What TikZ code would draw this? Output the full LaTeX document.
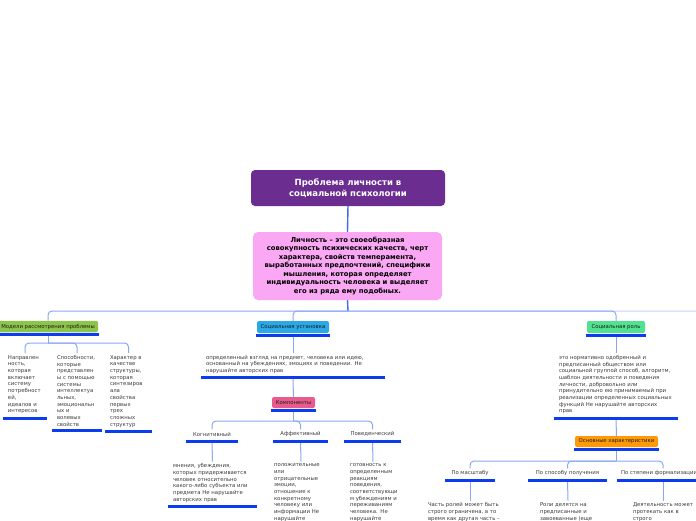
\documentclass[tikz,border=0pt]{standalone}
\usepackage{fontspec}
\setmainfont{DejaVu Sans}
\usetikzlibrary{calc}

\definecolor{titlepurple}{HTML}{6B2D90}
\definecolor{defpink}{HTML}{FAA8F3}
\definecolor{modgreen}{HTML}{8DC44C}
\definecolor{ustblue}{HTML}{2AA9E6}
\definecolor{rolegreen}{HTML}{52E18F}
\definecolor{comppink}{HTML}{EA5B8D}
\definecolor{charorange}{HTML}{FF9A05}
\definecolor{ulineblue}{HTML}{0B3CF2}
\definecolor{connblue}{HTML}{8AA7F6}
\definecolor{stemblue}{HTML}{3D6CF2}
\definecolor{fadeblue}{HTML}{C3D2FA}
\definecolor{leaftext}{HTML}{3A3A3A}
\definecolor{boxtext}{HTML}{1C1C1C}

\newcommand{\nodeuline}[2]{\draw[uline] ([xshift=-1pt,yshift=-#2]#1.south west) -- ([xshift=1pt,yshift=-#2]#1.south east);}

\begin{document}
\begin{tikzpicture}[x=1pt,y=-1pt,
    topic/.style={rounded corners=2pt,inner sep=1pt,font=\leaffontsize,text=boxtext},
    leaf/.style={anchor=north,align=left,inner xsep=4pt,inner ysep=2pt,font=\leaffontsize,text=leaftext,
      execute at begin node={\rightskip=0pt plus 1fil minus 100pt}},
    sublabel/.style={minimum height=9pt,inner sep=1pt,font=\leaffontsize,text=leaftext},
    conn/.style={draw=connblue,line width=1pt,rounded corners=4pt},
    mainconn/.style={draw=stemblue,line width=1.4pt},
    uline/.style={draw=ulineblue,line width=3pt}]
    \providecommand{\leaffontsize}{\fontsize{5.35pt}{6.7pt}\selectfont}
    \providecommand{\titlefontsize}{\fontsize{8.5pt}{11pt}\selectfont}
    \providecommand{\deffontsize}{\fontsize{6.8pt}{8.5pt}\selectfont}
    \useasboundingbox (0,0) rectangle (696,520);
    \clip (0,0) rectangle (696,520);
    \node[fill=titlepurple,rounded corners=4pt,minimum width=194pt,minimum height=36pt,text=white,font=\titlefontsize\bfseries,align=center] (title) at (348,188)
    {Проблема личности в\\социальной психологии};
    \node[fill=defpink,rounded corners=5pt,minimum width=189pt,minimum height=68pt,font=\deffontsize\bfseries,align=center] (def) at (347.5,266)
    {Личность – это своеобразная\\совокупность психических качеств, черт\\характера, свойств темперамента,\\выработанных предпочтений, специфики\\мышления, которая определяет\\индивидуальность человека и выделяет\\его из ряда ему подобных.};
    \coordinate (bus1) at (348,311);
    \coordinate (more) at (760,330);
    \node[topic,fill=modgreen,minimum width=100pt,minimum height=11.5pt] (mod) at (48,326.5) {Модели рассмотрения проблемы};
    \node[topic,fill=ustblue,minimum width=72pt,minimum height=12pt] (ust) at (293,327) {Социальная установка};
    \node[topic,fill=rolegreen,minimum width=58pt,minimum height=12pt] (role) at (616,327) {Социальная роль};
    \draw[mainconn] (title.south) -- (def.north);
    \draw[conn,draw=fadeblue] (bus1) -| (more);
    \draw[mainconn] (def.south) -- (bus1);
    \draw[conn] (bus1) -| (mod.north);
    \draw[conn] (bus1) -| (ust.north);
    \draw[conn] (bus1) -| (role.north);
    % модели
    \coordinate (bus2) at (48,343);
    \node[leaf,text width=34pt] (dir) at (25,353) {Направлен\\ность,\\которая\\включает\\систему\\потребност\\ей,\\идеалов и\\интересов};
    \node[leaf,text width=40pt] (abil) at (77,353) {Способности,\\которые\\представлен\\ы с помощью\\системы\\интеллектуа\\льных,\\эмоциональн\\ых и\\волевых\\свойств};
    \node[leaf,text width=37pt] (char) at (128.5,353) {Характер в\\качестве\\структуры,\\которая\\синтезиров\\ала\\свойства\\первых\\трех\\сложных\\структур};
    \draw[conn] ([yshift=-3pt]mod.south) -- (bus2);
    \draw[conn] (bus2) -| (dir.north);
    \draw[conn] (bus2) -| (abil.north);
    \draw[conn] (bus2) -| (char.north);
    % установка
    \node[leaf,text width=174pt] (ustdef) at (293,353) {определенный взгляд на предмет, человека или идею,\\основанный на убеждениях, эмоциях и поведении. Не\\нарушайте авторских прав};
    \node[topic,fill=comppink,minimum width=43pt,minimum height=11pt] (comp) at (293.5,402.5) {Компоненты};
    \draw[conn] ([yshift=-3pt]ust.south) -- (ustdef.north);
    \draw[conn] ([yshift=-3pt]ustdef.south) -- (comp.north);
    \coordinate (bus3) at (293.5,421);
    \node[sublabel,minimum width=50pt] (kog) at (212,434) {Когнитивный};
    \node[sublabel,minimum width=53pt] (aff) at (300.5,434) {Аффективный};
    \node[sublabel,minimum width=55pt] (beh) at (372.5,434) {Поведенческий};
    \draw[conn] ([yshift=-3pt]comp.south) -- (bus3);
    \draw[conn] (bus3) -| (kog.north);
    \draw[conn] (bus3) -| (aff.north);
    \draw[conn] (bus3) -| (beh.north);
    \node[leaf,text width=79pt] (kogt) at (212.5,461.5) {мнения, убеждения,\\которых придерживается\\человек относительно\\какого-либо субъекта или\\предмета Не нарушайте\\авторских прав};
    \node[leaf,text width=54pt] (afft) at (301,461.5) {положительные\\или\\отрицательные\\эмоции,\\отношение к\\конкретному\\человеку или\\информации Не\\нарушайте};
    \node[leaf,text width=46pt] (beht) at (373,461.5) {готовность к\\определенным\\реакциям\\поведения,\\соответствующи\\м убеждениям и\\переживаниям\\человека. Не\\нарушайте};
    \draw[conn] ([yshift=-2.5pt]kog.south) -- (kogt.north);
    \draw[conn] ([yshift=-2.5pt]aff.south) -- (afft.north);
    \draw[conn] ([yshift=-2.5pt]beh.south) -- (beht.north);
    % роль
    \node[leaf,text width=114pt] (roledef) at (616,353) {это нормативно одобренный и\\предписанный обществом или\\социальной группой способ, алгоритм,\\шаблон деятельности и поведения\\личности, добровольно или\\принудительно ею принимаемый при\\реализации определенных социальных\\функций Не нарушайте авторских\\прав};
    \node[topic,fill=charorange,minimum width=83pt,minimum height=11pt] (feat) at (616.5,441.5) {Основные характеристики};
    \draw[conn] ([yshift=-3pt]role.south) -- (roledef.north);
    \draw[conn] ([yshift=-3pt]roledef.south) -- (feat.north);
    \coordinate (bus4) at (616.5,461);
    \node[sublabel,minimum width=48pt] (scale) at (470,473) {По масштабу};
    \node[sublabel,minimum width=77pt] (way) at (567.5,473) {По способу получения};
    \node[sublabel,minimum width=82pt] (form) at (659,473) {По степени формализации};
    \draw[conn] ([yshift=-3pt]feat.south) -- (bus4);
    \draw[conn] (bus4) -| (scale.north);
    \draw[conn] (bus4) -| (way.north);
    \draw[conn] (bus4) -| ([xshift=4pt]form.north);
    \node[leaf,text width=84pt] (scalet) at (470,500.5) {Часть ролей может быть\\строго ограничена, в то\\время как другая часть –};
    \node[leaf,text width=56pt] (wayt) at (568,500.5) {Роли делятся на\\предписанные и\\завоеванные (еще};
    \node[leaf,text width=60pt] (formt) at (663,500.5) {Деятельность может\\протекать как в\\строго};
    \draw[conn] ([yshift=-2.5pt]scale.south) -- (scalet.north);
    \draw[conn] ([yshift=-2.5pt]way.south) -- (wayt.north);
    \draw[conn] ([xshift=4pt,yshift=-2.5pt]form.south) -- (formt.north);
    % подчеркивания
    \nodeuline{mod}{2pt}
    \nodeuline{ust}{2pt}
    \nodeuline{role}{2pt}
    \nodeuline{comp}{2pt}
    \nodeuline{feat}{2pt}
    \nodeuline{dir}{2pt}
    \nodeuline{abil}{2pt}
    \nodeuline{char}{2pt}
    \nodeuline{ustdef}{2pt}
    \nodeuline{kog}{2.5pt}
    \nodeuline{aff}{2.5pt}
    \nodeuline{beh}{2.5pt}
    \nodeuline{kogt}{2pt}
    \nodeuline{roledef}{2pt}
    \nodeuline{scale}{2.5pt}
    \nodeuline{way}{2.5pt}
    \nodeuline{form}{2.5pt}
\end{tikzpicture}
\end{document}
